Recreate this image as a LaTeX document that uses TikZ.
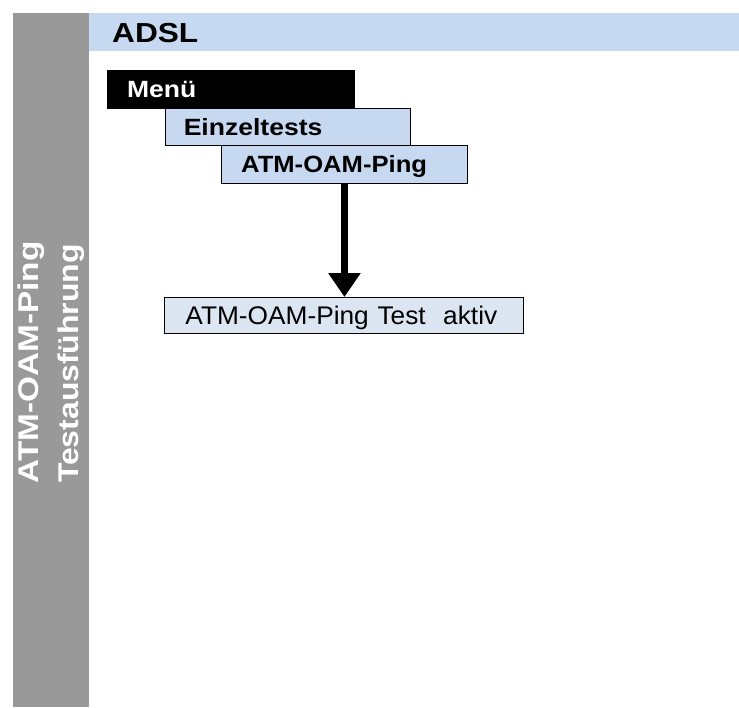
\documentclass[tikz,border=0pt]{standalone}
\usepackage{fontspec}
\setmainfont{Liberation Sans}
\usetikzlibrary{arrows.meta}
\definecolor{hdrblue}{HTML}{C6D9F1}
\definecolor{boxblue}{HTML}{C6D9F1}
\definecolor{paleblue}{HTML}{DCE6F2}
\definecolor{sidegray}{HTML}{999999}

\begin{document}
\begin{tikzpicture}[x=1pt,y=-1pt,
  menubox/.style={draw=black, line width=0.9pt, anchor=north west,
    inner ysep=0pt, align=left, text height=17pt, text depth=0pt,
    font=\fontsize{23.5}{28}\selectfont\bfseries},
  sidetext/.style={rotate=90, anchor=base, inner sep=0pt, text=white,
    font=\fontsize{28.5}{34}\selectfont\bfseries},
  flow/.style={line width=7.5pt, -{Triangle[width=31pt,length=24pt]}}
]
\useasboundingbox (0,0) rectangle (739,707);

% grey side bar with its rotated title
\node[fill=sidegray, anchor=north west, inner sep=0pt,
      minimum width=76pt, minimum height=694pt] (sidebar) at (13,13) {};
\node[sidetext] (side1) at (38.3,362.5) {\scalebox{1.17}[1]{ATM-OAM-Ping}};
\node[sidetext] (side2) at (78.3,363.5) {\scalebox{1.12}[1]{Testausführung}};

% header band
\node[fill=hdrblue, anchor=north west, inner ysep=0pt, inner xsep=23pt,
      text width=604pt, minimum height=38pt, align=left,
      text height=20pt, text depth=0pt,
      font=\fontsize{27.5}{32}\selectfont\bfseries] (header) at (89,13)
      {\scalebox{1.15}[1]{ADSL}};

% menu path
\node[menubox, fill=black, text=white, inner xsep=19.6pt, text width=207.8pt,
      minimum height=38pt] (menu) at (107,70) {\scalebox{1.13}[1]{Menü}};
\node[menubox, fill=boxblue, inner xsep=18.3pt, text width=208.4pt,
      minimum height=37pt] (single) at (165,108) {\scalebox{1.13}[1]{Einzeltests}};
\node[menubox, fill=boxblue, inner xsep=19.7pt, text width=206.6pt,
      minimum height=38pt] (ping) at (221,145) {\scalebox{1.09}[1]{ATM-OAM-Ping}};

% result box
\node[draw=black, line width=0.9pt, fill=paleblue, anchor=north west,
      inner ysep=0pt, inner xsep=21pt, text width=317pt, minimum height=36pt,
      align=left, text height=18.4pt, text depth=0pt,
      font=\fontsize{25.5}{30}\selectfont] (active) at (164,297)
      {\scalebox{1.03}[1]{ATM-OAM-Ping Test\ \ aktiv}};

\draw[flow] (ping.south) -- (ping.south |- active.north);
\end{tikzpicture}
\end{document}
